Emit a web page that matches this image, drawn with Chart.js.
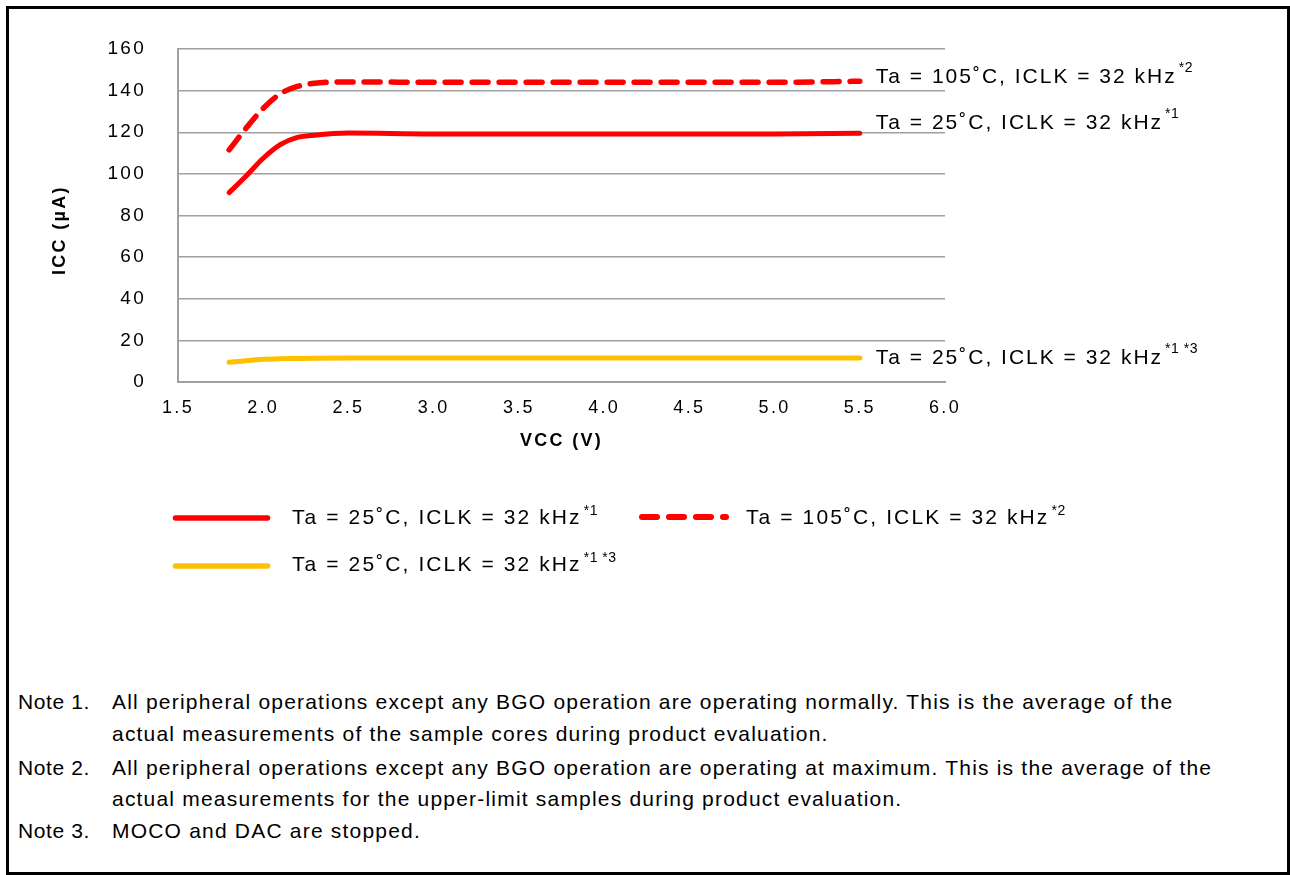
<!DOCTYPE html>
<html>
<head>
<meta charset="utf-8">
<script src="https://cdn.jsdelivr.net/npm/chart.js@4.4.1/dist/chart.umd.min.js"></script>
<style>
  html, body { margin: 0; padding: 0; background: #fff; }
  body { width: 1290px; height: 875px; position: relative; overflow: hidden; font-family: "Liberation Sans", Arial, sans-serif; color: #000; }
  #frame { position: absolute; left: 6px; top: 6px; width: 1284px; height: 869px; border: 3px solid #000; box-sizing: border-box; }
  #chartBox { position: absolute; left: 0; top: 0; width: 1290px; height: 470px; }
  .leg { position: absolute; font-size: 21px; letter-spacing: 2.1px; white-space: nowrap; line-height: 24px; }
  .leg sup { font-size: 14px; vertical-align: 0; position: relative; top: -9px; left: 2px; letter-spacing: 0.5px; }
  .sw { position: absolute; }
  .note { position: absolute; left: 18px; font-size: 21px; letter-spacing: 1.2px; line-height: 24px; white-space: nowrap; }
  .note .n { display: inline-block; width: 94px; letter-spacing: 0.6px; }
  .note.cont { left: 112px; }
</style>
</head>
<body>
<div id="frame"></div>
<div id="chartBox"><canvas id="iccChart"></canvas></div>

<svg class="sw" style="left:0;top:0" width="1290" height="600">
  <line x1="175.5" y1="518" x2="267.5" y2="518" stroke="#ff0000" stroke-width="5.5" stroke-linecap="round"/>
  <line x1="642" y1="517" x2="726" y2="517" stroke="#ff0000" stroke-width="6" stroke-linecap="round" stroke-dasharray="15 12"/>
  <line x1="175.5" y1="566" x2="267.5" y2="566" stroke="#ffc000" stroke-width="5.5" stroke-linecap="round"/>
</svg>
<div class="leg" style="left:292px;top:505px">Ta = 25˚C, ICLK = 32 kHz<sup>*1</sup></div>
<div class="leg" style="left:746px;top:505px">Ta = 105˚C, ICLK = 32 kHz<sup>*2</sup></div>
<div class="leg" style="left:292px;top:552px">Ta = 25˚C, ICLK = 32 kHz<sup>*1 *3</sup></div>

<div class="note" style="top:690px"><span class="n">Note 1.</span>All peripheral operations except any BGO operation are operating normally. This is the average of the</div>
<div class="note cont" style="top:722px">actual measurements of the sample cores during product evaluation.</div>
<div class="note" style="top:756px"><span class="n">Note 2.</span>All peripheral operations except any BGO operation are operating at maximum. This is the average of the</div>
<div class="note cont" style="top:787px">actual measurements for the upper-limit samples during product evaluation.</div>
<div class="note" style="top:819px"><span class="n">Note 3.</span>MOCO and DAC are stopped.</div>

<script>
// VCC (V) sample points
const vcc = [1.8, 1.9, 2.0, 2.1, 2.2, 2.3, 2.5, 3.0, 3.5, 4.0, 4.5, 5.0, 5.5];
// ICC (uA) per condition
const icc25 = [91, 99, 107.5, 114, 117.5, 118.6, 119.6, 119.2, 119.2, 119.2, 119.2, 119.2, 119.5];
const icc105 = [111.5, 122, 131.5, 138.5, 142, 143.5, 144.2, 144, 144, 144, 144, 144, 144.5];
const icc25Stop = [9.5, 10.2, 10.9, 11.2, 11.3, 11.4, 11.5, 11.5, 11.5, 11.5, 11.5, 11.5, 11.5];

const seriesNames = ["Ta = 25˚C, ICLK = 32 kHz", "Ta = 105˚C, ICLK = 32 kHz", "Ta = 25˚C, ICLK = 32 kHz"];
const seriesNotes = ["*1", "*2", "*1 *3"];

const xTicks = [1.5, 2.0, 2.5, 3.0, 3.5, 4.0, 4.5, 5.0, 5.5, 6.0];
const yTicks = [0, 20, 40, 60, 80, 100, 120, 140, 160];

const FONT = "'Liberation Sans', Arial, sans-serif";

function toPoints(ys) {
  return vcc.map((x, i) => ({ x: x, y: ys[i] }));
}

// canvas letter spacing, Chart.js has no option for it
const spacingPlugin = {
  id: "spacing",
  beforeLayout(chart) { chart.ctx.letterSpacing = "2.3px"; },
  beforeDraw(chart) { chart.ctx.letterSpacing = "2.3px"; }
};

// text at the right end of each line
const endLabels = {
  id: "endLabels",
  afterDatasetsDraw(chart) {
    const ctx = chart.ctx;
    ctx.save();
    ctx.fillStyle = "#000";
    ctx.textBaseline = "middle";
    chart.data.datasets.forEach((ds, i) => {
      const meta = chart.getDatasetMeta(i);
      const last = meta.data[meta.data.length - 1];
      const x = last.x + 16;
      const y = last.y + ds.labelDy;
      ctx.font = "21px " + FONT;
      ctx.letterSpacing = "2px";
      ctx.fillText(seriesNames[i], x, y);
      const w = ctx.measureText(seriesNames[i]).width;
      ctx.font = "14px " + FONT;
      ctx.letterSpacing = "0.5px";
      ctx.fillText(seriesNotes[i], x + w + 2, y - 9);
    });
    ctx.restore();
  }
};

new Chart(document.getElementById("iccChart"), {
  type: "line",
  data: {
    datasets: [
      {
        data: toPoints(icc25),
        borderColor: "#ff0000",
        borderWidth: 5,
        labelDy: -10
      },
      {
        data: toPoints(icc105),
        borderColor: "#ff0000",
        borderWidth: 5.5,
        borderDash: [16, 11],
        labelDy: -4
      },
      {
        data: toPoints(icc25Stop),
        borderColor: "#ffc000",
        borderWidth: 5,
        labelDy: 0
      }
    ]
  },
  options: {
    responsive: true,
    maintainAspectRatio: false,
    animation: false,
    parsing: false,
    layout: { padding: { left: 40, top: 49, right: 345, bottom: 8 } },
    elements: {
      point: { radius: 0, hoverRadius: 0 },
      line: { cubicInterpolationMode: "monotone", borderCapStyle: "round", borderJoinStyle: "round", fill: false }
    },
    plugins: {
      legend: { display: false },
      tooltip: { enabled: false }
    },
    scales: {
      x: {
        type: "linear",
        min: 1.5,
        max: 6.0,
        afterFit: s => { s.height = 80; },
        afterBuildTicks: s => { s.ticks = xTicks.map(v => ({ value: v })); },
        ticks: {
          color: "#000",
          font: { family: FONT, size: 18 },
          padding: 15,
          maxRotation: 0,
          autoSkip: false,
          callback: v => v.toFixed(1)
        },
        grid: { display: false, drawTicks: false },
        border: { display: true, color: "#a0a0a0", width: 2 },
        title: {
          display: true,
          text: "VCC (V)",
          color: "#000",
          font: { family: FONT, size: 18, weight: "bold" },
          padding: { top: 0, bottom: 10 }
        }
      },
      y: {
        min: 0,
        max: 160,
        afterFit: s => { s.width = 138; },
        afterBuildTicks: s => { s.ticks = yTicks.map(v => ({ value: v })); },
        ticks: {
          color: "#000",
          font: { family: FONT, size: 19 },
          padding: 32
        },
        grid: { color: "#a0a0a0", lineWidth: 1.5, drawTicks: false },
        border: { display: true, color: "#a0a0a0", width: 2 },
        title: {
          display: true,
          text: "ICC (µA)\u00a0\u00a0\u00a0\u00a0",
          color: "#000",
          font: { family: FONT, size: 18, weight: "bold" },
          padding: { top: 9, bottom: 0 }
        }
      }
    }
  },
  plugins: [spacingPlugin, endLabels]
});
</script>
</body>
</html>
